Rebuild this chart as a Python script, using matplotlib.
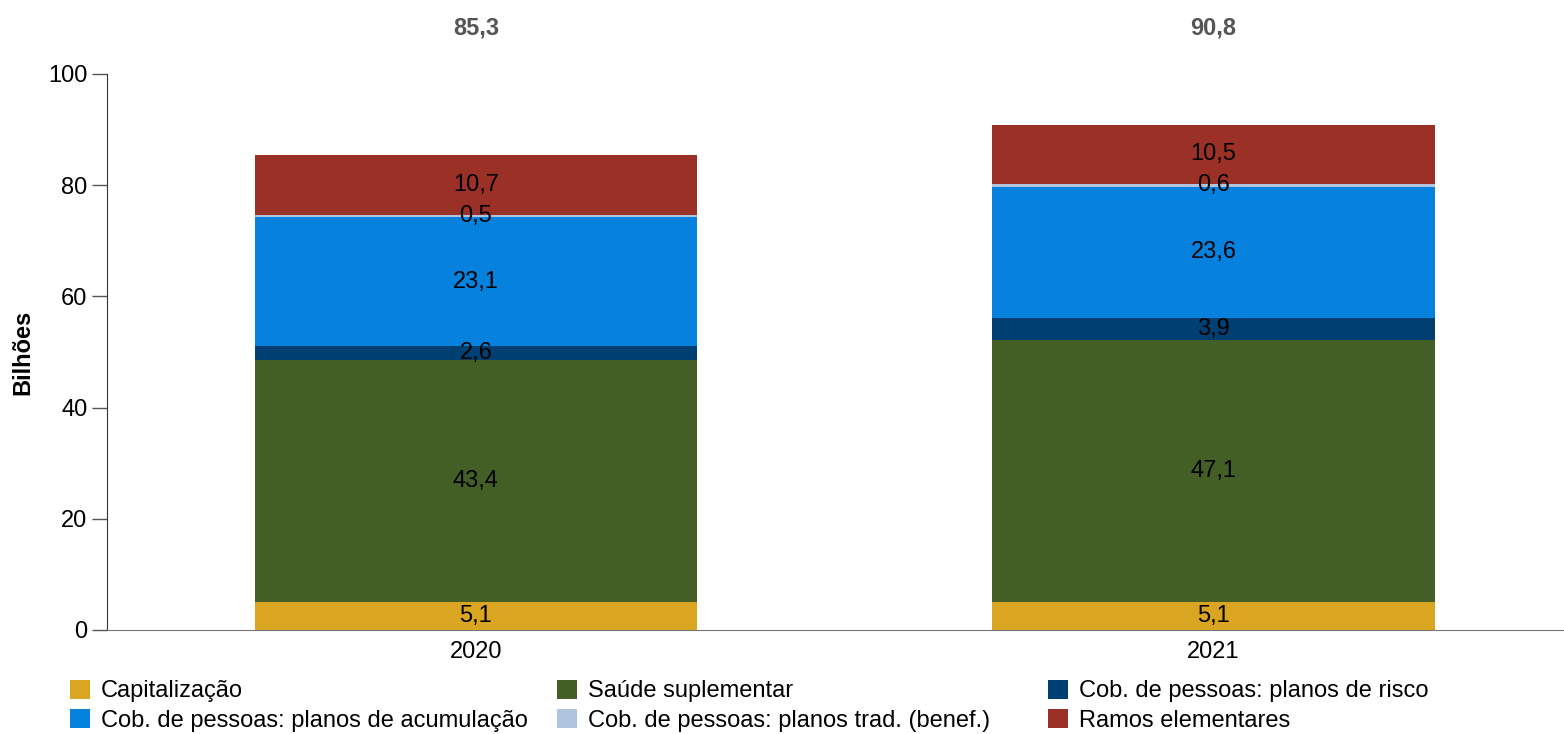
import numpy as np
import matplotlib.pyplot as plt
from matplotlib.patches import Patch

plt.rcParams['font.family'] = ['Liberation Sans', 'DejaVu Sans']

anos = ['2020', '2021']
series = ['Capitalização', 'Saúde suplementar', 'Cob. de pessoas: planos de risco',
          'Cob. de pessoas: planos de acumulação', 'Cob. de pessoas: planos trad. (benef.)',
          'Ramos elementares']
capitalizacao = [5.1, 5.1]
saude = [43.4, 47.1]
risco = [2.6, 3.9]
acumulacao = [23.1, 23.6]
tradicional = [0.5, 0.6]
ramos = [10.7, 10.5]
totais = ['85,3', '90,8']
cores = ['#DAA520', '#445F26', '#003F72', '#0682DE', '#B0C4DE', '#9A3026']

valores = [capitalizacao, saude, risco, acumulacao, tradicional, ramos]

fig = plt.figure(figsize=(15.64, 7.34), dpi=100)
ax = fig.add_axes([0.0684, 0.1417, 0.9316, 0.7575])

x = np.arange(len(anos))
base = np.zeros(len(anos))
for nome, vals, cor in zip(series, valores, cores):
    vals = np.array(vals)
    ax.bar(x, vals, bottom=base, width=0.6, color=cor, label=nome)
    for xi, b, v in zip(x, base, vals):
        ax.text(xi, b + v / 2, f'{v:.1f}'.replace('.', ','), ha='center', va='center',
                fontsize=17, color='black')
    base = base + vals

for xi, t in zip(x, totais):
    ax.text(xi, 1.082, t, transform=ax.get_xaxis_transform(), ha='center', va='center',
            fontsize=17, fontweight='bold', color='#555555')

ax.set_xlim(-0.5, 1.475)
ax.set_ylim(0, 100)
ax.set_yticks([0, 20, 40, 60, 80, 100])
ax.set_xticks(x)
ax.set_xticklabels(anos)
ax.tick_params(axis='y', labelsize=17, length=11, width=1, color='#555555', pad=3)
ax.tick_params(axis='x', labelsize=17, length=0, pad=8)
ax.spines['top'].set_visible(False)
ax.spines['right'].set_visible(False)
ax.spines['bottom'].set_color('#777777')
ax.spines['left'].set_color('#333333')
ax.set_ylabel('Bilhões', fontsize=17, fontweight='bold', labelpad=10)

# legenda em tres colunas fixas
colunas = [[0, 3], [1, 4], [2, 5]]
pos_x = [0.0448, 0.3561, 0.6701]
for col, px in zip(colunas, pos_x):
    handles = [Patch(facecolor=cores[i], edgecolor='none') for i in col]
    labels = [series[i] for i in col]
    leg = fig.legend(handles, labels, loc='center left', bbox_to_anchor=(px, 0.0385),
                     frameon=False, fontsize=17, handlelength=0.85, handleheight=0.85,
                     handletextpad=0.45, labelspacing=0.28, borderpad=0, borderaxespad=0)

fig.savefig('out.png', dpi=100)
